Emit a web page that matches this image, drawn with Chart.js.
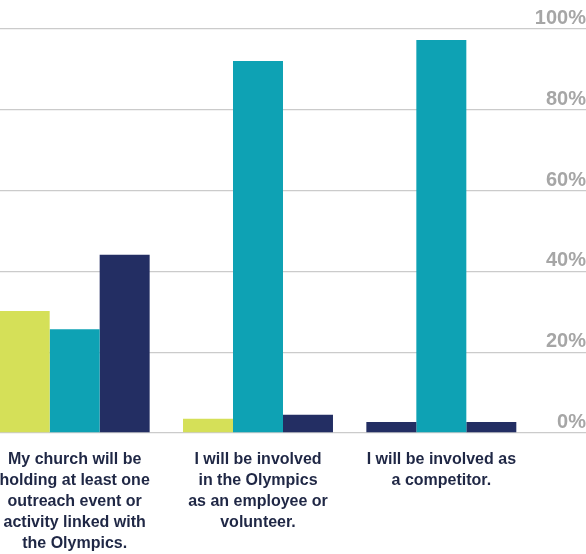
<!DOCTYPE html>
<html>
	<head>
		<title>Olympics involvement</title>
        <meta charset="UTF-8">
        <script src="https://cdn.jsdelivr.net/npm/chart.js@4"></script>
        <style>
            html, body { margin: 0; padding: 0; overflow: hidden; background: #fff; }
            #wrap { position: absolute; left: -17px; top: 0; width: 603px; height: 554px; }
        </style>
	</head>
	<body>
        <div id="wrap"><canvas id="bar-chart"></canvas></div>

		<script>
            // categories (multi-line labels) and the three series, in %
            const categories = [
                ["My church will be", "holding at least one", "outreach event or", "activity linked with", "the Olympics."],
                ["I will be involved", "in the Olympics", "as an employee or", "volunteer."],
                ["I will be involved as", "a competitor."]
            ];
            const series1 = [30.2, 3.5, 2.7];
            const series2 = [25.7, 92.1, 97.3];
            const series3 = [44.1, 4.5, 2.7];
            const yMax = 100;
            const yStep = 20;

            const lime = '#d5e058';
            const teal = '#0ea2b4';
            const navy = '#232e63';

            new Chart(document.getElementById("bar-chart"), {
                type: 'bar',
                data: {
                    labels: categories,
                    datasets: [
                        { data: series1, backgroundColor: [lime, lime, navy] },
                        { data: series2, backgroundColor: teal },
                        { data: series3, backgroundColor: navy }
                    ]
                },
                options: {
                    responsive: true,
                    maintainAspectRatio: false,
                    animation: false,
                    layout: { padding: { top: 29, left: 0, right: 0, bottom: 0 } },
                    datasets: { bar: { barPercentage: 1, categoryPercentage: 0.818 } },
                    plugins: { legend: { display: false }, tooltip: { enabled: false } },
                    scales: {
                        x: {
                            grid: { display: false, drawTicks: false },
                            border: { display: false },
                            ticks: {
                                padding: 16.5,
                                maxRotation: 0,
                                autoSkip: false,
                                color: '#1f2745',
                                font: { family: 'Liberation Sans', size: 16, weight: 'bold', lineHeight: 1.3125 }
                            },
                            afterFit: function(scale) { scale.height = 121; }
                        },
                        y: {
                            position: 'right',
                            min: 0,
                            max: yMax,
                            grid: { color: '#cbcbcb', lineWidth: 1.3, drawTicks: true, tickLength: 53 },
                            border: { display: false },
                            ticks: {
                                stepSize: yStep,
                                padding: -52,
                                crossAlign: 'far',
                                labelOffset: -10.5,
                                color: '#a6a6a6',
                                font: { family: 'Liberation Sans', size: 20, weight: 'bold' },
                                callback: function(v) { return v + '%'; }
                            },
                            afterFit: function(scale) { scale.width = 53; }
                        }
                    }
                }
            });
		</script>
	</body>
</html>
